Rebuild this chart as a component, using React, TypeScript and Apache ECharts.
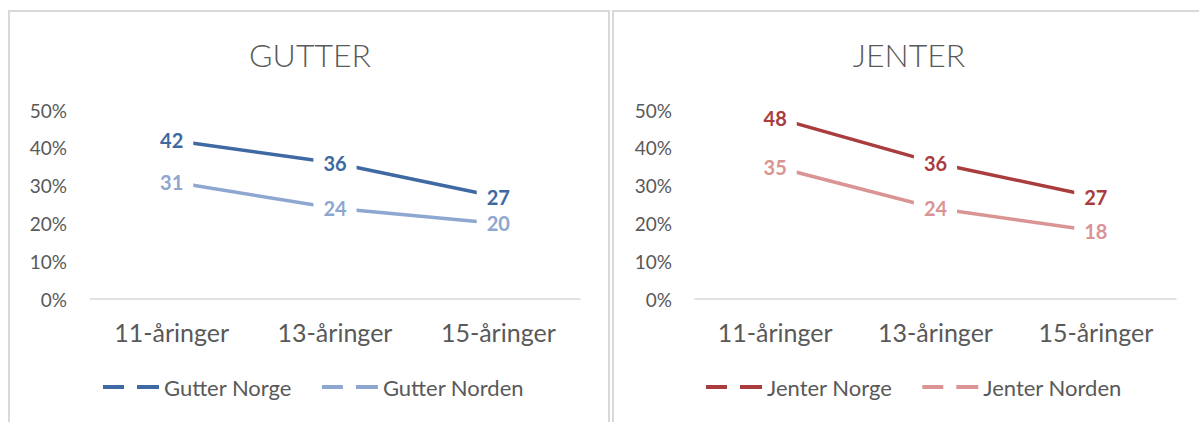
import React, { useEffect, useRef } from "react";
import * as echarts from "echarts";

const categories = ["11-åringer", "13-åringer", "15-åringer"];
const gutterNorge = [42, 36, 27];
const gutterNorden = [31, 24, 20];
const jenterNorge = [48, 36, 27];
const jenterNorden = [35, 24, 18];
const yTicks = { min: 0, max: 50, interval: 10 };

const FONT = "Lato";
const TXT = "#595959";
const BLUE = "#3F69A2";
const LBLUE = "#8EA7D0";
const RED = "#A93D3D";
const LRED = "#D99493";

const ICON = "path://M0,0H21V4H0Z M34,0H56V4H34Z";

function lineSeries(name: string, data: number[], color: string, idx: number) {
  return {
    name,
    type: "line",
    xAxisIndex: idx,
    yAxisIndex: idx,
    data,
    color,
    symbol: "circle",
    symbolSize: 2,
    showSymbol: true,
    lineStyle: { width: 3.5, color },
    itemStyle: { color },
    label: {
      show: true,
      position: "inside",
      formatter: "{c}",
      color,
      fontFamily: FONT,
      fontWeight: "bold",
      fontSize: 20,
      backgroundColor: "#ffffff",
      padding: [1, 10],
    },
    emphasis: { disabled: true },
  };
}

function xAxis(idx: number) {
  return {
    type: "category",
    gridIndex: idx,
    data: categories,
    boundaryGap: true,
    axisLine: { show: true, lineStyle: { color: "#D9D9D9", width: 1.5 } },
    axisTick: { show: false },
    axisLabel: { color: TXT, fontFamily: FONT, fontSize: 25, margin: 20 },
    splitLine: { show: false },
  };
}

function yAxis(idx: number) {
  return {
    type: "value",
    gridIndex: idx,
    min: yTicks.min,
    max: yTicks.max,
    interval: yTicks.interval,
    axisLine: { show: false },
    axisTick: { show: false },
    splitLine: { show: false },
    axisLabel: {
      formatter: "{value}%",
      color: TXT,
      fontFamily: FONT,
      fontSize: 19,
      margin: 23,
    },
  };
}

function legend(names: string[], left: number) {
  return {
    data: names,
    left,
    top: 376,
    padding: 0,
    icon: ICON,
    itemWidth: 56,
    itemHeight: 4,
    itemGap: 30,
    textStyle: { color: TXT, fontFamily: FONT, fontSize: 22 },
    selectedMode: false,
  };
}

export default function App() {
  const ref = useRef<HTMLDivElement>(null);
  useEffect(() => {
    if (!ref.current) return;
    const chart = echarts.init(ref.current, null, { renderer: "svg" });
    chart.setOption({
      animation: false,
      backgroundColor: "#ffffff",
      graphic: [
        {
          type: "rect",
          shape: { x: 9, y: 11, width: 600, height: 430 },
          style: { fill: "none", stroke: "#D9D9D9", lineWidth: 2 },
          silent: true,
        },
        {
          type: "rect",
          shape: { x: 613, y: 11, width: 620, height: 430 },
          style: { fill: "none", stroke: "#D9D9D9", lineWidth: 2 },
          silent: true,
        },
        {
          type: "text",
          x: 310,
          y: 54,
          style: {
            text: "GUTTER",
            fill: TXT,
            font: `300 32px ${FONT}`,
            align: "center",
            verticalAlign: "middle",
          },
        },
        {
          type: "text",
          x: 909,
          y: 54,
          style: {
            text: "JENTER",
            fill: TXT,
            font: `300 32px ${FONT}`,
            align: "center",
            verticalAlign: "middle",
          },
        },
      ],
      legend: [
        legend(["Gutter Norge", "Gutter Norden"], 103),
        legend(["Jenter Norge", "Jenter Norden"], 706),
      ],
      grid: [
        { left: 90, top: 110, width: 490, height: 189 },
        { left: 695, top: 110, width: 481, height: 189 },
      ],
      xAxis: [xAxis(0), xAxis(1)],
      yAxis: [yAxis(0), yAxis(1)],
      series: [
        lineSeries("Gutter Norden", gutterNorden, LBLUE, 0),
        lineSeries("Gutter Norge", gutterNorge, BLUE, 0),
        lineSeries("Jenter Norden", jenterNorden, LRED, 1),
        lineSeries("Jenter Norge", jenterNorge, RED, 1),
      ],
    });
    return () => chart.dispose();
  }, []);
  return (
    <div
      ref={ref}
      style={{ position: "fixed", left: 0, top: 0, width: 1199, height: 422 }}
    />
  );
}
